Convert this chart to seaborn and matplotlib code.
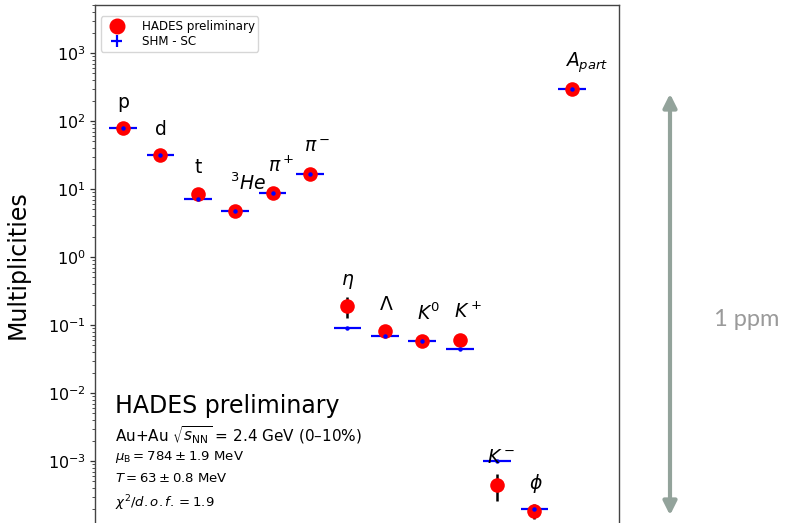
import numpy as np
import pandas as pd
import matplotlib
matplotlib.use("Agg")
import matplotlib.pyplot as plt
import seaborn as sns
from matplotlib.lines import Line2D

# Particle species and their yields (Au+Au, 2.4 GeV, 0-10% central)
species = ["p", "d", "t", "$^3He$", "$\\pi^+$", "$\\pi^-$", "$\\eta$",
           "$\\Lambda$", "$K^0$", "$K^+$", "$K^-$", "$\\phi$", "$A_{part}$"]
hades_yield = [80.0, 31.3, 8.4, 4.8, 8.8, 16.6, 0.19,
               0.082, 0.058, 0.060, 4.5e-4, 1.86e-4, 295.0]
hades_err = [3.0, 1.5, 0.4, 0.3, 0.4, 0.8, 0.065,
             0.005, 0.003, 0.004, 1.9e-4, 0.45e-4, 10.0]
shm_yield = [80.0, 31.3, 7.2, 4.8, 8.8, 16.6, 0.090,
             0.069, 0.058, 0.045, 1.0e-3, 2.0e-4, 295.0]

# Label placement: horizontal shift (in category units) and height (data units)
label_dx = [0.0, 0.0, 0.0, 0.35, 0.24, 0.2, 0.0, 0.05, 0.16, 0.22, 0.1, 0.05, 0.4]
label_y = [184, 76, 20.4, 12.2, 21.8, 42.9, 0.43, 0.197, 0.15, 0.155, 1.14e-3, 4.7e-4, 711]

y_tick_values = [1e-3, 1e-2, 1e-1, 1e0, 1e1, 1e2, 1e3]

df = pd.DataFrame({
    "species": species,
    "idx": np.arange(len(species)),
    "hades": hades_yield,
    "hades_err": hades_err,
    "shm": shm_yield,
})

sns.set_theme(style="ticks")
plt.rcParams["font.family"] = ["DejaVu Sans"]
plt.rcParams["mathtext.fontset"] = "dejavusans"
for key in ["text.color", "axes.labelcolor", "xtick.color", "ytick.color"]:
    plt.rcParams[key] = "black"

W, H = 790, 523
fig = plt.figure(figsize=(W / 100, H / 100), dpi=100)
ax_left, ax_right, ax_top, ax_bottom = 95, 619, 5, 529
ax = fig.add_axes([ax_left / W, 1 - ax_bottom / H,
                   (ax_right - ax_left) / W, (ax_bottom - ax_top) / H])

# SHM fit: horizontal bars
shm_cont = ax.errorbar(df["idx"], df["shm"], xerr=0.37, yerr=0 * df["shm"],
                       fmt="none", ecolor="#0000ff", elinewidth=1.6,
                       zorder=2, label="SHM - SC")
# HADES data: error bars and markers
ax.errorbar(df["idx"], df["hades"], yerr=df["hades_err"], fmt="none",
            ecolor="black", elinewidth=1.8, zorder=2.5)
sns.scatterplot(data=df, x="idx", y="hades", color="#ff0000", s=110,
                linewidth=0, zorder=3, ax=ax, label="HADES preliminary",
                legend=False)
# SHM centre dots on top of the markers
ax.plot(df["idx"], df["shm"], ls="none", marker="o", ms=2.2,
        color="#0000ff", zorder=4)

for i, (lab, dx, ly) in enumerate(zip(species, label_dx, label_y)):
    ax.text(i + dx, ly, lab, ha="center", va="center", fontsize=13.5,
            color="black", zorder=5)

ax.set_yscale("log")
ax.set_ylim(1e-4, 10 ** 3.706)
ax.set_xlim(-0.75, 13.26)
ax.set_xticks([])
ax.set_xlabel("")
ax.set_ylabel("Multiplicities", fontsize=17)
ax.yaxis.set_label_coords(-0.124, 0.504)
ax.yaxis.set_major_locator(matplotlib.ticker.FixedLocator(y_tick_values))
ax.yaxis.set_major_formatter(matplotlib.ticker.LogFormatterSciNotation())
ax.yaxis.set_minor_locator(matplotlib.ticker.LogLocator(base=10, subs=np.arange(2, 10), numticks=20))
ax.yaxis.set_minor_formatter(matplotlib.ticker.NullFormatter())
ax.tick_params(axis="y", which="major", labelsize=11.5, length=3.5, width=0.9,
               direction="out", pad=3, color="#333333")
ax.tick_params(axis="y", which="minor", length=2, width=0.6, color="#333333")
for side in ["left", "right", "top", "bottom"]:
    ax.spines[side].set_visible(True)
    ax.spines[side].set_color("#444444")
    ax.spines[side].set_linewidth(1.0)

hades_handle = Line2D([], [], ls="none", marker="o", ms=10.5, color="#ff0000")
leg = ax.legend([hades_handle, shm_cont], ["HADES preliminary", "SHM - SC"],
                loc="upper left", fontsize=8.6, frameon=True,
                borderpad=0.3, handletextpad=1.1, labelspacing=0.2,
                bbox_to_anchor=(0.0, 0.99))
leg.get_frame().set_edgecolor("#cccccc")

# Annotation block
fx = 115 / W
fig.text(fx, 1 - 406 / H, "HADES preliminary", fontsize=17, va="center", ha="left")
fig.text(fx, 1 - 435 / H, "Au+Au $\\sqrt{s_{\\rm NN}}$ = 2.4 GeV (0\u201310%)",
         fontsize=11, va="center", ha="left")
fig.text(fx, 1 - 457 / H, "$\\mu_{\\rm B} = 784 \\pm 1.9$ MeV", fontsize=9.5,
         va="center", ha="left")
fig.text(fx, 1 - 479 / H, "$T = 63 \\pm 0.8$ MeV", fontsize=9.5,
         va="center", ha="left")
fig.text(fx, 1 - 503 / H, "$\\chi^2/d.o.f. = 1.9$", fontsize=9.5,
         va="center", ha="left")

# Dynamic range arrow at the right
fig.add_artist(matplotlib.patches.FancyArrowPatch(
    (670 / W, 1 - 91 / H), (670 / W, 1 - 518 / H),
    transform=fig.transFigure, arrowstyle="<|-|>", mutation_scale=20,
    color="#93a39b", lw=3))
fig.text(747 / W, 1 - 320 / H, "1 ppm", fontsize=17, color="#9a9a9a",
         ha="center", va="center", family=["Lato", "DejaVu Sans"])

fig.savefig("out.png", dpi=100)
